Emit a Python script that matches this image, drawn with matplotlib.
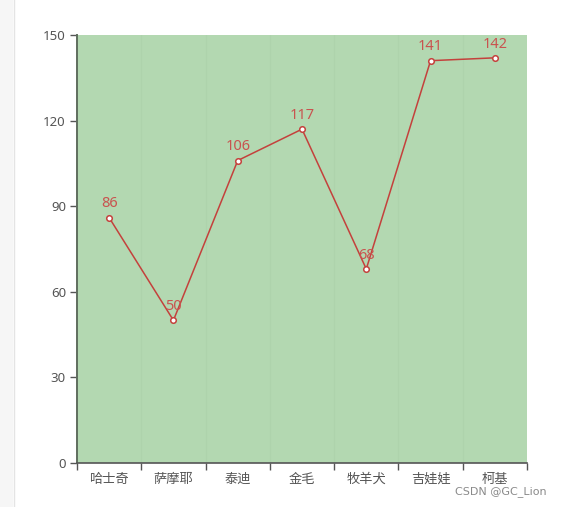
import matplotlib
matplotlib.use("Agg")
import matplotlib.pyplot as plt
from matplotlib.patches import Rectangle

plt.rcParams['font.family'] = ['Noto Sans CJK SC', 'DejaVu Sans']

categories = ['哈士奇', '萨摩耶', '泰迪', '金毛', '牧羊犬', '吉娃娃', '柯基']
values = [86, 50, 106, 117, 68, 141, 142]
y_ticks = [0, 30, 60, 90, 120, 150]

W, H = 563, 507
fig = plt.figure(figsize=(W / 100, H / 100), dpi=100)

# page strip on the left
fig.patches.append(Rectangle((0, 0), 13 / W, 1, transform=fig.transFigure,
                             facecolor='#f6f6f6', edgecolor='none', zorder=0))
fig.lines.append(plt.Line2D([13.5 / W, 13.5 / W], [0, 1], transform=fig.transFigure,
                            color='#e4e4e4', lw=1))

left, right, top, bottom = 77, 527, 35, 463
ax = fig.add_axes([left / W, 1 - bottom / H, (right - left) / W, (bottom - top) / H])
ax.set_facecolor('#b3d8b1')

n = len(categories)
x = [i + 0.5 for i in range(n)]
ax.set_xlim(0, n)
ax.set_ylim(0, 150)

# faint category separators
for b in range(1, n):
    ax.axvline(b, color='#aed3ac', lw=0.8, zorder=1)

ax.plot(x, values, color='#c4413c', lw=1.1, zorder=3,
        marker='o', markersize=4.0, markerfacecolor='white',
        markeredgecolor='#c4413c', markeredgewidth=1.1)
for xi, v in zip(x, values):
    ax.annotate(str(v), (xi, v), xytext=(0, 4.5), textcoords='offset points',
                ha='center', va='bottom', color='#c9534f', fontsize=10.5,
                family=['Noto Sans', 'DejaVu Sans'], zorder=4)

ax.set_xticks(range(n + 1))
ax.set_xticklabels([])
ax.set_xticks(x, minor=True)
ax.set_xticklabels(categories, minor=True)
ax.tick_params(axis='x', which='major', length=5, width=1, color='#555555', direction='out')
ax.tick_params(axis='x', which='minor', length=0, pad=7, labelsize=9.5, labelcolor='#555555')

ax.set_yticks(y_ticks)
ax.set_yticklabels([str(t) for t in y_ticks], family=['Noto Sans', 'DejaVu Sans'])
ax.tick_params(axis='y', length=5, width=1, color='#555555', labelsize=9.5,
               labelcolor='#555555', pad=3)

for s in ['top', 'right']:
    ax.spines[s].set_visible(False)
ax.spines['left'].set_color('#5f6e5e')
ax.spines['left'].set_linewidth(1.4)
ax.spines['bottom'].set_color('#555555')
ax.spines['bottom'].set_linewidth(1.2)

fig.text(547 / W, 1 - 492 / H, 'CSDN @GC_Lion', ha='right', va='center',
         fontsize=8, color='#8a8a8a', family=['DejaVu Sans'])

fig.savefig('out.png', dpi=100)
